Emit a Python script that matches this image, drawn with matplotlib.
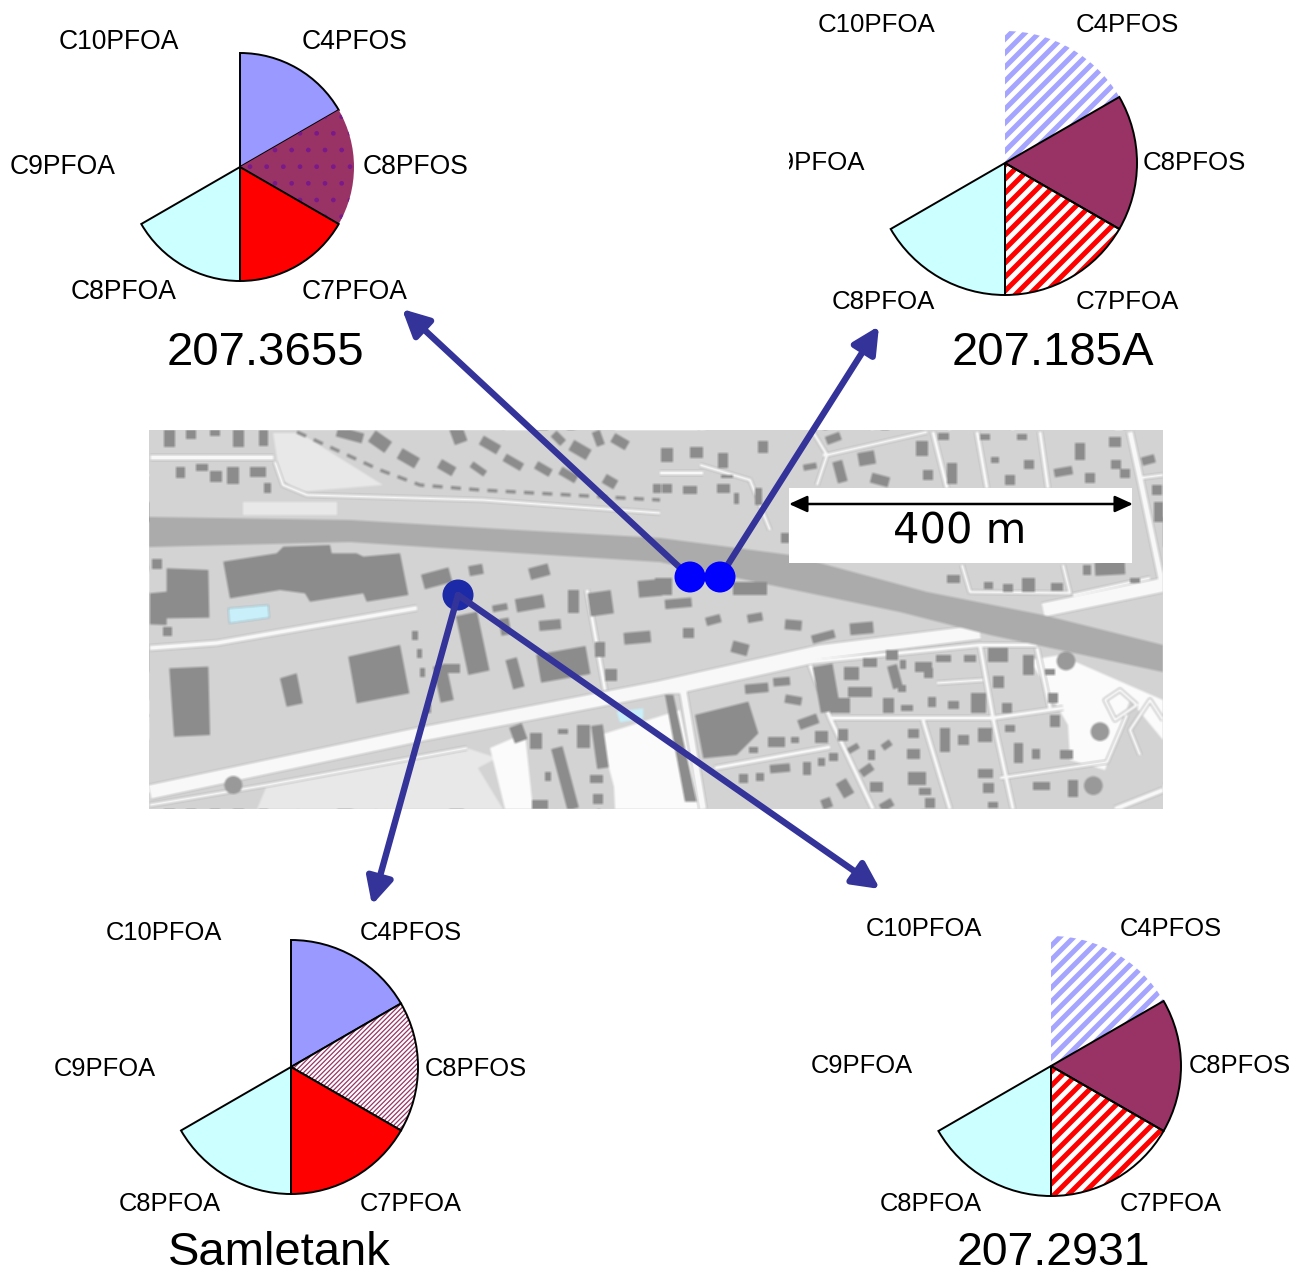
import matplotlib
matplotlib.use('Agg')
import matplotlib.pyplot as plt
import numpy as np
from matplotlib.patches import Polygon, Rectangle, Circle, Wedge

plt.rcParams['font.family'] = ['Liberation Sans', 'DejaVu Sans']

W, H = 1305, 1276

# the pies, all six compounds clockwise from 12 o'clock
compounds = ['C4PFOS', 'C8PFOS', 'C7PFOA', 'C8PFOA', 'C9PFOA', 'C10PFOA']
radius_3655 = [1, 1, 1, 1, 0, 0]
radius_185a = [1, 1, 1, 1, 0, 0]
radius_samle = [1, 1, 1, 1, 0, 0]
radius_2931 = [1, 1, 1, 1, 0, 0]

names = ['207.3655', '207.185A', 'Samletank', '207.2931']
# center x, center y, radius in pixels
pie_place = [(240, 167, 114), (1005, 163, 132), (291, 1067, 127), (1051, 1066, 130)]
name_place = [(265, 353), (1053, 353), (279, 1253), (1053, 1253)]
name_size = [34, 34, 34, 33.4]
label_size = [19.1, 18.6, 18.4, 18.4]
# left edge x and middle y of the labels, same order as compounds
label_x = [[302, 363, 302, 71, 10, 59],
           [1076, 1143, 1076, 832, 762, 818],
           [360, 425, 360, 119, 54, 106],
           [1120, 1189, 1120, 880, 811, 866]]
label_y = [[42, 167, 292, 292, 167, 42],
           [25, 163, 302, 302, 163, 25],
           [933, 1069, 1204, 1204, 1069, 933],
           [929, 1066, 1204, 1204, 1066, 929]]

# face, hatch colour, hatch, hatch width, black outline
blue = ('#9999ff', None, '', 0, True)
maroon = ('#993366', None, '', 0, True)
red = ('#ff0000', None, '', 0, True)
pale = ('#ccffff', None, '', 0, True)
fills_3655 = [blue, ('#993366', '#7a1a8a', '.', 1.0, False), red, pale]
striped = [('none', '#a5a5ff', 'stripes', 3.6, False), maroon, ('none', '#ff0000', 'stripes', 3.6, True), pale]
fills_samle = [blue, ('white', '#993366', '///////', 0.9, True), red, pale]
fills = [fills_3655, striped, fills_samle, striped]
radii = [radius_3655, radius_185a, radius_samle, radius_2931]
stripe_step = 14

# sampling points and arrows
site_x = [690, 720, 458]
site_y = [577, 577, 595]
site_col = ['#0000ff', '#0000ff', '#1c2aa8']
arrow_from = [(690, 577), (720, 577), (458, 595), (458, 595)]
arrow_to = [(402, 309), (879, 326), (372, 905), (880, 889)]

highway = [(149, 517), (350, 520), (517, 530), (660, 538), (790, 555), (927, 592), (1043, 615), (1163, 645),
           (1163, 672), (990, 635), (900, 612), (737, 578), (660, 562), (517, 553), (350, 542), (149, 547)]
white_areas = [[(600, 735), (680, 710), (700, 809), (620, 809)],
               [(1030, 660), (1060, 655), (1140, 690), (1163, 700), (1163, 740), (1130, 700), (1105, 770), (1070, 760), (1068, 725)],
               [(490, 748), (525, 733), (533, 809), (505, 809)],
               [(660, 735), (685, 800), (660, 809), (615, 809), (612, 745)]]
pale_areas = [[(273, 433), (300, 433), (383, 485), (300, 492), (280, 478)],
              [(243, 502), (337, 502), (337, 515), (243, 515)],
              [(267, 785), (467, 748), (497, 758), (478, 768), (503, 809), (257, 809)]]
# polyline, width in px
roads = [([(150, 792), (417, 735), (660, 688), (820, 652), (980, 632)], 14),
         ([(1043, 610), (1163, 585)], 14),
         ([(150, 648), (217, 643), (417, 608)], 5),
         ([(150, 457), (273, 457)], 5),
         ([(275, 462), (283, 485), (307, 495), (483, 500), (660, 513)], 3),
         ([(150, 805), (267, 785), (467, 748)], 3),
         ([(587, 590), (605, 690)], 4),
         ([(660, 690), (683, 690), (703, 809)], 7),
         ([(685, 690), (810, 662), (980, 645), (1037, 645)], 4),
         ([(810, 665), (830, 718), (873, 809)], 4),
         ([(830, 718), (993, 718), (1063, 708)], 4),
         ([(923, 720), (950, 809)], 4),
         ([(993, 718), (980, 645)], 4),
         ([(993, 718), (1013, 809)], 4),
         ([(1037, 648), (1050, 708)], 4),
         ([(715, 768), (830, 747)], 4),
         ([(937, 683), (983, 680)], 3),
         ([(1000, 778), (1107, 762), (1127, 715)], 3),
         ([(823, 455), (827, 455), (927, 432)], 3),
         ([(813, 432), (827, 455), (817, 485)], 3),
         ([(933, 432), (947, 488)], 4),
         ([(977, 432), (987, 488)], 4),
         ([(1040, 432), (1048, 488)], 4),
         ([(1130, 432), (1140, 478), (1163, 588)], 6),
         ([(1140, 478), (1163, 475)], 3),
         ([(962, 565), (970, 592), (1070, 593), (1063, 565)], 3),
         ([(1073, 595), (1150, 578)], 3),
         ([(660, 473), (703, 473)], 4),
         ([(700, 465), (750, 480), (770, 530)], 3),
         ([(1163, 790), (1115, 809)], 5),
         ([(1163, 720), (1150, 700), (1130, 730), (1140, 755)], 3),
         ([(1137, 705), (1115, 720), (1105, 700), (1120, 690), (1137, 705)], 3)]
rail_dash = [(297, 432), (380, 470), (420, 485), (480, 490), (660, 500)]
big_left = [[(220, 410), (380, 385), (400, 365), (540, 360), (545, 385), (620, 385), (640, 395), (750, 385), (775, 510),
             (650, 530), (640, 505), (480, 530), (465, 505), (390, 495), (240, 520)],
            [(0, 505), (50, 500), (50, 430), (175, 435), (178, 578), (50, 580), (50, 600), (0, 598)],
            [(595, 695), (750, 660), (778, 805), (620, 835)],
            [(58, 730), (175, 725), (180, 930), (72, 935)],
            [(390, 760), (440, 745), (458, 835), (410, 845)]]
big_right = [[(105, 870), (265, 830), (295, 925), (230, 990), (130, 1000)],
             [(15, 810), (40, 810), (110, 1130), (75, 1130)]]
pool = [(235, 550), (355, 540), (358, 578), (238, 595)]
pool2 = [(1400, 860), (1480, 850), (1480, 880), (1410, 892)]
# cx, cy, w, h, angle
houses_left = [(58, 40, 34, 54, 0), (122, 28, 30, 30, 0), (195, 22, 30, 22, 0), (265, 40, 34, 54, 0), (340, 38, 28, 50, 0),
               (92, 142, 28, 34, 0), (157, 128, 36, 20, 0), (198, 155, 36, 32, 0), (250, 152, 36, 50, 0), (325, 142, 48, 30, 0),
               (352, 188, 20, 30, 0), (600, 30, 80, 30, 15), (690, 50, 60, 40, 35), (775, 100, 60, 35, 30), (890, 128, 50, 30, 30),
               (985, 132, 50, 20, 35), (925, 30, 40, 50, -20), (1020, 60, 60, 30, 30), (1090, 112, 60, 25, 30), (1180, 132, 50, 25, 30),
               (1255, 150, 55, 25, 30), (1225, 40, 40, 25, 45), (1290, 75, 60, 35, 30), (1345, 40, 25, 45, -20), (1410, 50, 50, 30, 30),
               (1380, 170, 40, 30, 30), (1520, 190, 25, 25, 0), (860, 460, 85, 45, -15), (978, 435, 42, 30, -10), (1168, 440, 60, 35, -15),
               (1050, 548, 45, 20, -10), (1140, 535, 85, 40, -10), (1200, 600, 65, 30, -5), (1270, 530, 35, 70, 0), (1352, 535, 70, 70, -8),
               (1500, 490, 70, 50, -5), (1462, 638, 80, 35, -5), (1350, 672, 28, 45, 0), (1382, 750, 35, 35, 0), (1240, 718, 150, 85, -10),
               (1095, 745, 35, 90, -15), (968, 655, 65, 180, -12), (880, 775, 40, 110, -12), (905, 730, 50, 25, 0), (795, 632, 16, 28, 0),
               (808, 685, 14, 28, 0), (818, 742, 16, 28, 0), (838, 850, 12, 28, 0), (1065, 605, 30, 50, -10), (52, 620, 26, 26, 0),
               (20, 418, 30, 30, 0), (1105, 925, 40, 50, -20), (1158, 948, 35, 50, 0), (1240, 918, 30, 15, 0), (1300, 935, 40, 70, 0),
               (1350, 965, 35, 130, -8), (1245, 1060, 35, 190, -15), (1195, 1055, 18, 28, 0), (1340, 1062, 38, 22, 0), (1345, 1122, 30, 28, 0),
               (1170, 1140, 50, 30, 0)]
houses_right = [(20, 90, 35, 40, 0), (110, 82, 40, 35, 0), (188, 105, 30, 45, 0), (310, 65, 30, 35, 0), (520, 40, 45, 25, -20),
                (450, 125, 40, 18, -10), (540, 140, 30, 65, -15), (620, 100, 50, 40, -10), (660, 165, 55, 30, 15), (785, 70, 35, 45, 0),
                (805, 150, 30, 30, 0), (875, 145, 30, 65, 0), (850, 35, 35, 20, 0), (975, 35, 30, 18, 0), (1005, 105, 22, 20, 0),
                (1050, 165, 30, 30, 0), (1085, 35, 30, 18, 0), (1108, 118, 30, 28, 0), (1210, 140, 55, 25, -10), (1260, 80, 30, 50, 0),
                (1290, 160, 30, 30, 0), (1365, 50, 35, 30, 0), (1368, 118, 30, 25, 0), (1395, 145, 30, 25, 0), (1465, 105, 40, 25, -15),
                (1490, 195, 30, 30, 0), (1495, 260, 25, 60, 0), (90, 195, 40, 22, 0), (190, 190, 40, 25, 0), (230, 220, 14, 35, 0),
                (200, 155, 35, 10, 0), (20, 190, 30, 25, 0), (295, 215, 20, 50, 0), (375, 340, 25, 30, 0),
                (55, 535, 80, 28, -5), (270, 490, 100, 40, 0), (10, 485, 50, 50, 0), (160, 585, 45, 25, -15), (285, 578, 45, 25, -10),
                (400, 600, 50, 30, 5), (85, 625, 35, 30, 0), (490, 635, 70, 25, -15), (605, 610, 70, 35, -5), (240, 670, 50, 35, 15),
                (880, 462, 38, 25, 0), (985, 482, 25, 20, 0), (1045, 488, 30, 25, 0), (1105, 480, 40, 40, 0), (1190, 485, 35, 25, 0),
                (1280, 435, 25, 28, 0), (1350, 430, 90, 40, -3), (1425, 465, 30, 15, 0), (1015, 690, 60, 40, 0), (1105, 720, 35, 60, 0),
                (1170, 740, 30, 18, 0), (695, 690, 35, 28, 0), (630, 712, 40, 25, 0), (730, 718, 18, 25, 0), (790, 725, 50, 30, 0),
                (805, 745, 28, 30, 0), (850, 700, 45, 20, 0), (930, 700, 35, 20, 0), (705, 755, 30, 70, -15), (575, 745, 45, 40, 0),
                (600, 800, 70, 30, 0), (500, 790, 60, 140, -10), (540, 840, 60, 45, 0), (725, 790, 25, 20, 0), (685, 840, 35, 45, 0),
                (740, 850, 35, 18, 0), (815, 830, 25, 30, 0), (880, 840, 35, 25, 0), (955, 835, 45, 60, 0), (1015, 770, 35, 35, 0),
                (1040, 850, 30, 30, 0), (1180, 820, 30, 30, 0), (290, 790, 70, 28, -5), (365, 770, 50, 25, -5), (400, 825, 50, 25, 10),
                (445, 890, 60, 30, -20), (485, 935, 40, 35, 0), (350, 950, 50, 30, 0), (405, 945, 25, 20, 0), (280, 975, 25, 20, 0),
                (360, 1030, 60, 25, -5), (300, 1055, 25, 25, 0), (250, 1060, 25, 25, 0), (440, 1030, 25, 40, 0), (485, 1010, 20, 25, 0),
                (520, 995, 25, 25, 0), (555, 1090, 35, 50, -30), (620, 1035, 40, 25, -35), (635, 990, 20, 30, 0), (580, 970, 35, 18, -30),
                (680, 960, 30, 20, -35), (550, 930, 30, 35, 0), (760, 925, 35, 25, 0), (760, 988, 38, 30, 0), (855, 945, 30, 70, 0),
                (910, 945, 35, 30, 0), (975, 930, 40, 40, 0), (770, 1060, 55, 40, 0), (795, 1100, 35, 20, 0), (650, 1085, 40, 30, 0),
                (500, 1135, 30, 30, -20), (680, 1140, 40, 25, -30), (810, 1135, 30, 30, 0), (975, 1045, 45, 25, 0), (985, 1090, 35, 30, 0),
                (1000, 1140, 30, 20, 0), (1050, 910, 30, 20, 0), (1075, 985, 25, 60, 0), (1128, 988, 25, 30, 0), (1220, 988, 38, 25, 0),
                (1185, 888, 30, 35, 0), (1145, 1082, 50, 25, 0), (1240, 1090, 30, 50, 0)]
round_trees = [(250, 1080, 27, 'l'), (1218, 708, 28, 'r'), (1320, 920, 28, 'r'), (1300, 1082, 28, 'r')]


def crop_pts(pts, ox):
    return [(ox + x / 3, 425 + y / 3) for x, y in pts]


def house_poly(h, ox):
    cx, cy, w, hh, ang = h
    a = np.radians(ang)
    dx = np.array([-w, w, w, -w]) / 2
    dy = np.array([-hh, -hh, hh, hh]) / 2
    xs = cx + dx * np.cos(a) - dy * np.sin(a)
    ys = cy + dx * np.sin(a) + dy * np.cos(a)
    return crop_pts(list(zip(xs, ys)), ox)


# the map is a soft raster in the original, so draw it apart and blur it
map_x0, map_x1, map_y0, map_y1 = 149, 1163, 430, 809
mfig = plt.figure(figsize=((map_x1 - map_x0) / 100, (map_y1 - map_y0) / 100), dpi=100, facecolor='#d3d3d3')
mx = mfig.add_axes([0, 0, 1, 1])
mx.set_xlim(map_x0, map_x1)
mx.set_ylim(map_y1, map_y0)
mx.axis('off')

for a in pale_areas:
    mx.add_patch(Polygon(a, facecolor='#e8e8e8', edgecolor='none', zorder=1.2))
for a in white_areas:
    mx.add_patch(Polygon(a, facecolor='#fbfbfb', edgecolor='none', zorder=1.3))
for pts, width in roads:
    xs, ys = zip(*pts)
    mx.plot(xs, ys, color='#b8b8b8', lw=(width + 2) * 0.72, solid_capstyle='butt', zorder=1.4)
for pts, width in roads:
    xs, ys = zip(*pts)
    mx.plot(xs, ys, color='#f8f8f8', lw=width * 0.72, solid_capstyle='butt', zorder=1.5)
xs, ys = zip(*rail_dash)
mx.plot(xs, ys, color='#8e8e8e', lw=2.4, ls=(0, (3, 2.5)), zorder=1.6)
mx.add_patch(Polygon(highway, facecolor='#ababab', edgecolor='none', zorder=1.7))
for b in big_left:
    mx.add_patch(Polygon(crop_pts(b, 150), facecolor='#8c8c8c', edgecolor='none', zorder=2))
for b in big_right:
    mx.add_patch(Polygon(crop_pts(b, 660), facecolor='#8c8c8c', edgecolor='none', zorder=2))
for h in houses_left:
    mx.add_patch(Polygon(house_poly(h, 150), facecolor='#8c8c8c', edgecolor='none', zorder=2))
for h in houses_right:
    mx.add_patch(Polygon(house_poly(h, 660), facecolor='#8c8c8c', edgecolor='none', zorder=2))
for tx, ty, tr, side in round_trees:
    ox = 150 if side == 'l' else 660
    mx.add_patch(Circle((ox + tx / 3, 425 + ty / 3), tr / 3, facecolor='#999999', edgecolor='none', zorder=2))
mx.add_patch(Polygon(crop_pts(pool, 150), facecolor='#c8f0fa', edgecolor='#9ab8c4', lw=0.6, zorder=2))
mx.add_patch(Polygon(crop_pts(pool2, 150), facecolor='#c8f0fa', edgecolor='none', zorder=2))

mfig.canvas.draw()
map_img = np.asarray(mfig.canvas.buffer_rgba())[:, :, :3] / 255.0
soft = map_img.copy()
for shift_axis in (0, 1):
    soft = (np.roll(soft, 1, axis=shift_axis) + soft + np.roll(soft, -1, axis=shift_axis)) / 3
plt.close(mfig)

fig = plt.figure(figsize=(W / 100, H / 100), dpi=100, facecolor='white')
ax = fig.add_axes([0, 0, 1, 1])
ax.imshow(soft, extent=(map_x0, map_x1, map_y1, map_y0), aspect='auto', zorder=1, interpolation='bilinear')
ax.set_xlim(0, W)
ax.set_ylim(H, 0)
ax.axis('off')

# scale bar
ax.add_patch(Rectangle((789, 488), 343, 75, facecolor='white', edgecolor='none', zorder=3))
ax.annotate('', xy=(789, 504), xytext=(1133, 504), zorder=3.1,
            arrowprops=dict(arrowstyle='<|-|>,head_length=11,head_width=5', mutation_scale=1, color='black',
                            lw=1.8, shrinkA=0, shrinkB=0))
ax.text(960, 531, '400 m', ha='center', va='center', fontsize=30, family='DejaVu Sans', zorder=3.2)

# arrows then the dots
ax.add_patch(Circle((site_x[2], site_y[2]), 15.5, facecolor=site_col[2], edgecolor='none', zorder=4))
for start, end in zip(arrow_from, arrow_to):
    ax.annotate('', xy=end, xytext=start, zorder=4.5,
                arrowprops=dict(arrowstyle='-|>,head_length=16,head_width=8', mutation_scale=1, color='#333399',
                                lw=4.6, shrinkA=0, shrinkB=0))
for i in range(2):
    ax.add_patch(Circle((site_x[i], site_y[i]), 15.5, facecolor=site_col[i], edgecolor='none', zorder=5))

# pies
for i in range(4):
    cx, cy, r = pie_place[i]
    pax = fig.add_axes([(cx - r) / W, 1 - (cy + r) / H, 2 * r / W, 2 * r / H], projection='polar')
    pax.set_theta_zero_location('N')
    pax.set_theta_direction(-1)
    pax.set_ylim(0, 1)
    pax.axis('off')
    pax.patch.set_alpha(0)
    step = 2 * np.pi / len(compounds)
    for k, val in enumerate(radii[i]):
        if val == 0:
            continue
        face, hcol, hatch, hw, edge = fills[i][k]
        if hatch == 'stripes':
            # stripes at the original spacing, the built in hatch only comes in steps
            clip = Wedge((cx, cy), r * val, -90 + k * 60, -30 + k * 60, transform=ax.transData)
            for c in np.arange(cx + cy - 2 * r, cx + cy + 2 * r, stripe_step):
                stripe, = ax.plot([cx - r, cx + r], [c - cx + r, c - cx - r], color=hcol, lw=hw, zorder=2)
                stripe.set_clip_path(clip)
        elif hatch:
            bar = pax.bar(k * step, val, width=step, align='edge', facecolor=face, edgecolor=hcol,
                          hatch=hatch, lw=0)[0]
            bar.set_hatch_linewidth(hw)
            bar.set_clip_on(False)
        else:
            bar = pax.bar(k * step, val, width=step, align='edge', facecolor=face, edgecolor='none')[0]
            bar.set_clip_on(False)
        if edge:
            outline = pax.bar(k * step, val, width=step, align='edge', facecolor='none', edgecolor='black', lw=1.4)[0]
            outline.set_clip_on(False)
    for k, name in enumerate(compounds):
        ax.text(label_x[i][k], label_y[i][k], name, ha='left', va='center', fontsize=label_size[i], zorder=6)
    ax.text(name_place[i][0], name_place[i][1], names[i], ha='center', va='center', fontsize=name_size[i], zorder=6)

# the 207.185A C9PFOA label is cut on its left in the original
ax.add_patch(Rectangle((745, 140), 44, 45, facecolor='white', edgecolor='none', zorder=7))

fig.savefig('out.png', dpi=100)
